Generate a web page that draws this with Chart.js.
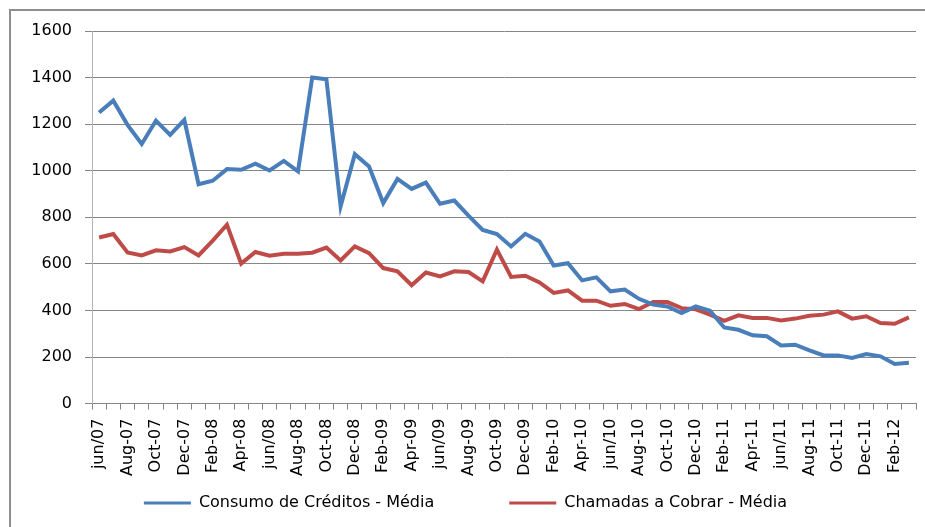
<!DOCTYPE html>
<html>
<head>
<meta charset="utf-8">
<script src="https://cdn.jsdelivr.net/npm/chart.js@4/dist/chart.umd.min.js"></script>
<style>
  html, body { margin: 0; padding: 0; background: #fff; overflow: hidden; width: 925px; height: 527px; }
  .frame { position: absolute; left: 9px; top: 9px; width: 2000px; height: 2000px;
           border-left: 2px solid #8e8e8e; border-top: 2px solid #8e8e8e; }
  #chart { position: absolute; left: 0; top: 0; }
</style>
</head>
<body>
<div class="frame"></div>
<canvas id="chart" width="925" height="521"></canvas>
<script>
const months = [
  'jun/07', 'Jul-07', 'Aug-07', 'Sep-07', 'Oct-07', 'Nov-07', 'Dec-07',
  'Jan-08', 'Feb-08', 'Mar-08', 'Apr-08', 'May-08', 'jun/08', 'Jul-08', 'Aug-08', 'Sep-08', 'Oct-08', 'Nov-08', 'Dec-08',
  'Jan-09', 'Feb-09', 'Mar-09', 'Apr-09', 'May-09', 'jun/09', 'Jul-09', 'Aug-09', 'Sep-09', 'Oct-09', 'Nov-09', 'Dec-09',
  'Jan-10', 'Feb-10', 'Mar-10', 'Apr-10', 'May-10', 'jun/10', 'Jul-10', 'Aug-10', 'Sep-10', 'Oct-10', 'Nov-10', 'Dec-10',
  'Jan-11', 'Feb-11', 'Mar-11', 'Apr-11', 'May-11', 'jun/11', 'Jul-11', 'Aug-11', 'Sep-11', 'Oct-11', 'Nov-11', 'Dec-11',
  'Jan-12', 'Feb-12', 'Mar-12'
];

const consumoCreditos = [
  1250, 1301, 1197, 1115, 1215, 1154, 1218, 942, 957, 1007,
  1004, 1030, 1001, 1042, 997, 1400, 1393, 847, 1071, 1018,
  861, 965, 922, 949, 858, 872, 807, 746, 728, 675,
  729, 696, 593, 603, 529, 542, 482, 490, 450, 425,
  417, 389, 417, 399, 327, 317, 293, 289, 250, 253,
  229, 207, 207, 196, 213, 203, 170, 175
];

const chamadasCobrar = [
  713, 728, 649, 636, 658, 653, 672, 636, 700, 768,
  601, 651, 635, 643, 643, 648, 670, 615, 675, 646,
  582, 568, 508, 563, 546, 568, 565, 525, 661, 544,
  549, 520, 475, 486, 442, 442, 420, 428, 406, 436,
  436, 410, 405, 382, 355, 379, 368, 368, 357, 365,
  377, 382, 396, 365, 375, 346, 343, 370
];

const yTicks = { min: 0, max: 1600, step: 200 };

const blue = '#4a7ebb';
const red = '#be4b48';
const font = 'DejaVu Sans';

const ctx = document.getElementById('chart').getContext('2d');
new Chart(ctx, {
  type: 'line',
  data: {
    labels: months,
    datasets: [{
      label: 'Consumo de Créditos - Média',
      data: consumoCreditos,
      borderColor: blue,
      backgroundColor: blue,
      borderWidth: 4,
      pointRadius: 0,
      tension: 0,
    }, {
      label: 'Chamadas a Cobrar - Média',
      data: chamadasCobrar,
      borderColor: red,
      backgroundColor: red,
      borderWidth: 4,
      pointRadius: 0,
      tension: 0,
    }],
  },
  options: {
    responsive: false,
    animation: false,
    layout: { padding: { left: 15, right: 9, top: 31, bottom: 0 } },
    scales: {
      x: {
        offset: true,
        afterFit: scale => {
          scale.height = 75;
          scale.paddingLeft = 0;
          scale.paddingRight = 0;
        },
        grid: { offset: true, drawOnChartArea: false, drawTicks: true, tickLength: 6, color: '#868686' },
        border: { color: '#868686' },
        ticks: {
          autoSkip: false,
          maxRotation: 90,
          minRotation: 90,
          padding: 9,
          color: '#000',
          font: { family: font, size: 16 },
          callback: (val, i) => (i % 2 === 0 ? months[i] : ''),
        },
      },
      y: {
        min: yTicks.min,
        max: yTicks.max,
        afterFit: scale => { scale.width = 77; },
        grid: { color: '#868686', tickLength: 7 },
        border: { color: '#b4b4b4' },
        ticks: {
          stepSize: yTicks.step,
          padding: 13,
          color: '#000',
          font: { family: font, size: 16 },
          callback: v => String(v),
        },
      },
    },
    plugins: {
      tooltip: { enabled: false },
      legend: {
        position: 'bottom',
        // wide gap between the two items; the empty title pulls the row back up
        title: { display: true, text: '', padding: { top: -73, bottom: 0 } },
        labels: {
          boxWidth: 47,
          boxHeight: 3,
          padding: 75,
          color: '#000',
          font: { family: font, size: 16 },
          generateLabels: chart => Chart.defaults.plugins.legend.labels.generateLabels(chart)
            .map(item => ({ ...item, lineWidth: 0, fillStyle: item.strokeStyle })),
        },
      },
    },
  },
});
</script>
</body>
</html>
